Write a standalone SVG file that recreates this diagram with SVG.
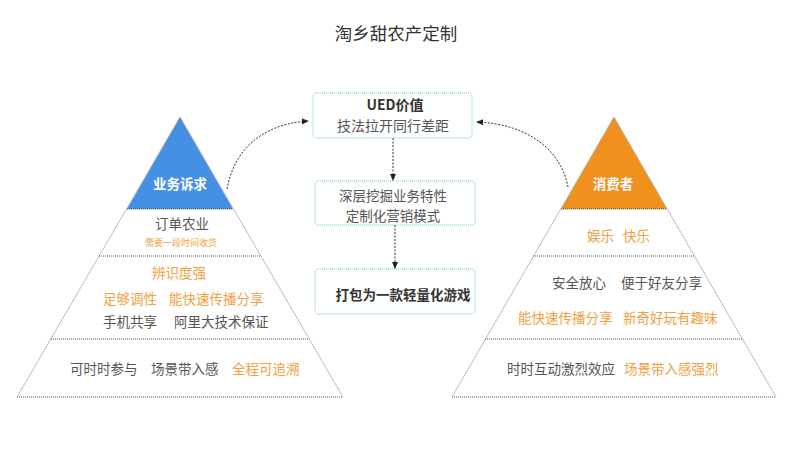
<svg xmlns="http://www.w3.org/2000/svg" width="800" height="454" viewBox="0 0 800 454">
<defs>
<style>
text{font-family:"Noto Sans CJK SC","Noto Sans",sans-serif;dominant-baseline:central;text-anchor:middle}
.s{text-anchor:start}
.g{fill:#555;font-size:13.5px}
.o{fill:#f0a040;font-size:13.5px}
.w{fill:#fff;font-size:13.5px;font-weight:bold}
.b{fill:#333;font-size:14px;font-weight:bold}
.side{stroke:#aaa;stroke-width:0.8;fill:none}
.sep{stroke:#555;stroke-width:1;stroke-dasharray:1 1;fill:none}
.box{fill:#fff;stroke:#6cc6d2;stroke-width:1;stroke-dasharray:1 1}
.con{stroke:#333;stroke-width:1;stroke-dasharray:2 1.5;fill:none}
</style>
<marker id="ah" viewBox="0 0 8 8" refX="7" refY="4" markerWidth="7" markerHeight="7" orient="auto" markerUnits="userSpaceOnUse">
<path d="M0,0.5 L8,4 L0,7.5 Z" fill="#222"/>
</marker>
</defs>
<rect width="800" height="454" fill="#fff"/>
<g id="title"><text x="396" y="32" style="fill:#333;font-size:17.5px">淘乡甜农产定制</text></g>

<g id="left-pyramid">
<polygon points="180,117 127,209 233,209" fill="#4690e3"/>
<path class="side" d="M180,117 L17,397 M180,117 L343,397"/>
<path class="sep" d="M127,209 H233 M99,256 H261 M51,339 H309 M17,397 H343"/>
<text class="w" x="180" y="183">业务诉求</text>
<text class="g s" x="155" y="223">订单农业</text>
<text class="o s" x="145" y="242" style="font-size:9px">需要一段时间收货</text>
<text class="o s" x="152" y="272">辨识度强</text>
<text class="o s" x="103" y="298">足够调性</text>
<text class="o s" x="169" y="298">能快速传播分享</text>
<text class="g s" x="103" y="321">手机共享</text>
<text class="g s" x="174" y="321">阿里大技术保证</text>
<text class="g s" x="70" y="368">可时时参与</text>
<text class="g s" x="151" y="368">场景带入感</text>
<text class="o s" x="232" y="368">全程可追溯</text>
</g>

<g id="right-pyramid">
<polygon points="614,117 561,209 667,209" fill="#f0901e"/>
<path class="side" d="M614,117 L452,397 M614,117 L776,397"/>
<path class="sep" d="M561,209 H667 M533,256 H695 M485,339 H743 M452,397 H776"/>
<text class="w" x="613" y="183">消费者</text>
<text class="o s" x="587" y="235">娱乐</text>
<text class="o s" x="623" y="235">快乐</text>
<text class="g s" x="552" y="282">安全放心</text>
<text class="g s" x="621" y="282">便于好友分享</text>
<text class="o s" x="518" y="317">能快速传播分享</text>
<text class="o s" x="623" y="317">新奇好玩有趣味</text>
<text class="g s" x="507" y="368">时时互动激烈效应</text>
<text class="o s" x="624" y="368">场景带入感强烈</text>
</g>

<g id="box-ued">
<rect class="box" x="313" y="93" width="159" height="45" rx="3"/>
<text class="b" x="395" y="104">UED价值</text>
<text class="g" x="393" y="125" style="font-size:14px">技法拉开同行差距</text>
</g>
<g id="box-deep">
<rect class="box" x="315" y="181" width="160" height="44" rx="3"/>
<text class="g" x="393" y="195">深层挖掘业务特性</text>
<text class="g" x="393" y="215">定制化营销模式</text>
</g>
<g id="box-game">
<rect class="box" x="315" y="269" width="160" height="45" rx="3"/>
<text class="b" x="403" y="294" style="font-size:13.5px">打包为一款轻量化游戏</text>
</g>

<g id="connectors">
<path class="con" d="M393,138 V180" marker-end="url(#ah)"/>
<path class="con" d="M395,225 V268" marker-end="url(#ah)"/>
<path class="con" d="M227,189 C234,150 262,124 308,121" marker-end="url(#ah)"/>
<path class="con" d="M568,187 C561,150 528,124 477,122" marker-end="url(#ah)"/>
</g>
</svg>
